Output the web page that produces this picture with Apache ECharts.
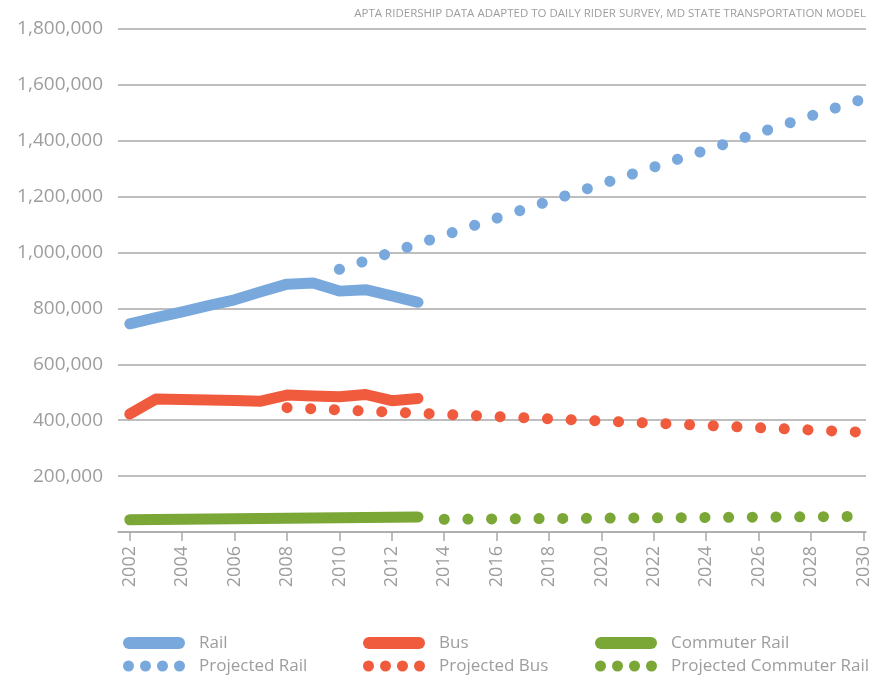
<!DOCTYPE html>
<html>
<head>
<meta charset="utf-8">
<script src="https://cdn.jsdelivr.net/npm/echarts@6/dist/echarts.min.js"></script>
<style>
  html, body { margin: 0; padding: 0; background: #ffffff; }
  #chart { width: 886px; height: 676px; }
</style>
</head>
<body>
<div id="chart"></div>
<script>
// Observed daily ridership, 2002–2013
const years = [2002, 2003, 2004, 2005, 2006, 2007, 2008, 2009, 2010, 2011, 2012, 2013];
const rail = [745000, 767000, 788000, 810000, 831000, 860000, 887000, 891000, 862000, 867000, 845000, 822000];
const bus = [422000, 476000, 474000, 472000, 471000, 468000, 490000, 487000, 484000, 492000, 470000, 478000];
const commuterRail = [44000, 45000, 45500, 46500, 47000, 48000, 49000, 50000, 51000, 52000, 53000, 54000];

// Model projections (straight-line trends between endpoints)
const projectedRailYears = [2010, 2030];
const projectedRail = [940000, 1550000];
const projectedBusYears = [2008, 2030];
const projectedBus = [445000, 357000];
const projectedCommuterYears = [2014, 2030];
const projectedCommuter = [45500, 56000];

// Axis labels
const xTickYears = [2002, 2004, 2006, 2008, 2010, 2012, 2014, 2016, 2018, 2020, 2022, 2024, 2026, 2028, 2030];
const yMin = 0, yMax = 1800000, yStep = 200000;

const sourceNote = 'APTA RIDERSHIP DATA ADAPTED TO DAILY RIDER SURVEY, MD STATE TRANSPORTATION MODEL';

const BLUE = '#79a9dc';
const RED = '#f05b3d';
const GREEN = '#7ba736';
const GREY_TEXT = '#9d9d9d';
const GRID = '#a9a9a9';
const FONT = 'Open Sans';

const pairs = (xs, ys) => xs.map((x, i) => [x, ys[i]]);

const CAPSULE = 'path://M6,0L56,0A6,6,0,0,1,56,12L6,12A6,6,0,0,1,6,0Z';
const DOTS = 'path://M0,6A5.5,5.5,0,1,0,11,6A5.5,5.5,0,1,0,0,6Z' +
             'M17,6A5.5,5.5,0,1,0,28,6A5.5,5.5,0,1,0,17,6Z' +
             'M34,6A5.5,5.5,0,1,0,45,6A5.5,5.5,0,1,0,34,6Z' +
             'M51,6A5.5,5.5,0,1,0,62,6A5.5,5.5,0,1,0,51,6Z';

function solidLine(name, data, color) {
  return {
    type: 'line', name, data, symbol: 'none', showSymbol: false, silent: true,
    itemStyle: { color },
    lineStyle: { color, width: 11, cap: 'round', join: 'round' },
    z: 3
  };
}
function dottedLine(name, data, color) {
  return {
    type: 'line', name, data, symbol: 'none', showSymbol: false, silent: true,
    itemStyle: { color },
    lineStyle: { color, width: 11, type: [0.1, 23.6], cap: 'round' },
    z: 2
  };
}

function legendBlock(left, solidName, dottedName) {
  return {
    left, top: 633, height: 60, orient: 'vertical', itemGap: 3,
    itemWidth: 62, itemHeight: 12, padding: 0,
    selectedMode: false,
    itemStyle: { borderWidth: 0 },
    textStyle: { color: GREY_TEXT, fontFamily: FONT, fontSize: 17, lineHeight: 20, padding: [0, 0, 0, 9] },
    data: [{ name: solidName, icon: CAPSULE }, { name: dottedName, icon: DOTS }]
  };
}

const chart = echarts.init(document.getElementById('chart'), null, { renderer: 'canvas' });
chart.setOption({
  animation: false,
  backgroundColor: '#ffffff',
  title: {
    text: sourceNote, right: 20, top: 8, padding: 0,
    textStyle: { color: GREY_TEXT, fontFamily: FONT, fontSize: 11.5, fontWeight: 'normal' }
  },
  grid: { left: 118, right: 20, top: 29, bottom: 144, containLabel: false },
  xAxis: {
    type: 'value', min: 2001.55, max: 2030.1,
    axisLine: { show: true, lineStyle: { color: GRID, width: 1.5 } },
    axisTick: { show: true, length: 9, lineStyle: { color: GRID, width: 1.5 }, customValues: xTickYears },
    axisLabel: {
      rotate: 90, margin: 14, color: GREY_TEXT, fontFamily: FONT, fontSize: 18,
      customValues: xTickYears, formatter: v => String(v)
    },
    splitLine: { show: false }
  },
  yAxis: {
    type: 'value', min: yMin, max: yMax, interval: yStep,
    axisLine: { show: false }, axisTick: { show: false },
    axisLabel: {
      margin: 15, color: GREY_TEXT, fontFamily: FONT, fontSize: 19,
      formatter: v => v === 0 ? '' : v.toLocaleString('en-US')
    },
    splitLine: { show: true, lineStyle: { color: GRID, width: 1.5 } }
  },
  legend: [
    legendBlock(123, 'Rail', 'Projected Rail'),
    legendBlock(363, 'Bus', 'Projected Bus'),
    legendBlock(595, 'Commuter Rail', 'Projected Commuter Rail')
  ],
  series: [
    dottedLine('Projected Rail', pairs(projectedRailYears, projectedRail), BLUE),
    dottedLine('Projected Bus', pairs(projectedBusYears, projectedBus), RED),
    dottedLine('Projected Commuter Rail', pairs(projectedCommuterYears, projectedCommuter), GREEN),
    solidLine('Rail', pairs(years, rail), BLUE),
    solidLine('Bus', pairs(years, bus), RED),
    solidLine('Commuter Rail', pairs(years, commuterRail), GREEN)
  ]
});
</script>
</body>
</html>
